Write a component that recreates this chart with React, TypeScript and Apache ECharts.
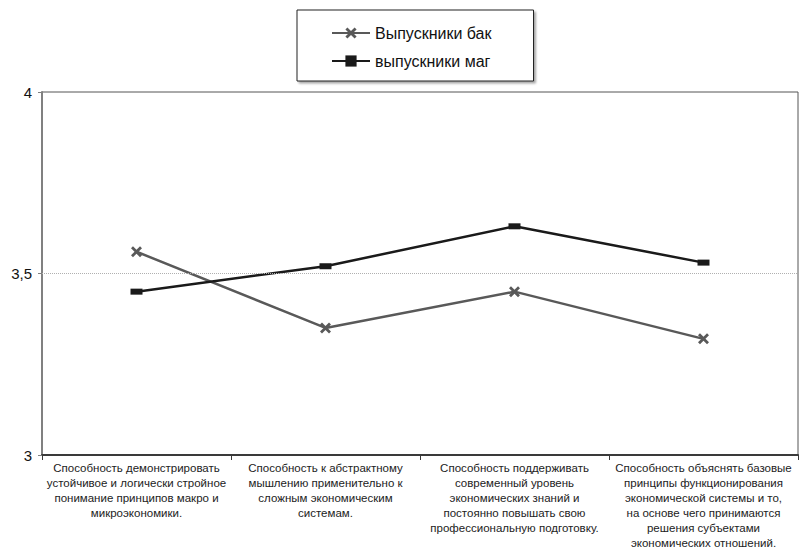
import React, { useEffect, useRef } from "react";
import * as echarts from "echarts";

const categories = [
  "Способность демонстрировать\nустойчивое и логически стройное\nпонимание принципов макро и\nмикроэкономики.",
  "Способность к абстрактному\nмышлению применительно к\nсложным экономическим\nсистемам.",
  "Способность поддерживать\nсовременный уровень\nэкономических знаний и\nпостоянно повышать свою\nпрофессиональную подготовку.",
  "Способность объяснять базовые\nпринципы функционирования\nэкономической системы и то,\nна основе чего принимаются\nрешения субъектами\nэкономических отношений.",
];
const seriesNames = ["Выпускники бак", "выпускники маг"];
const bakValues = [3.56, 3.35, 3.45, 3.32];
const magValues = [3.45, 3.52, 3.63, 3.53];

const crossPath =
  "path://M0,1.8L1.8,0L5,3.2L8.2,0L10,1.8L6.8,5L10,8.2L8.2,10L5,6.8L1.8,10L0,8.2L3.2,5Z";

export default function App() {
  const ref = useRef<HTMLDivElement>(null);
  useEffect(() => {
    const chart = echarts.init(ref.current!, null, { renderer: "svg" });
    chart.setOption({
      animation: false,
      backgroundColor: "#fff",
      textStyle: { fontFamily: "Liberation Sans" },
      legend: {
        orient: "vertical",
        left: 297,
        top: 10,
        padding: [15, 42, 12, 34],
        itemGap: 12,
        itemWidth: 38,
        itemHeight: 14,
        borderColor: "#222",
        borderWidth: 1,
        backgroundColor: "#fff",
        shadowColor: "rgba(0,0,0,0.35)",
        shadowBlur: 2,
        shadowOffsetX: 2,
        shadowOffsetY: 2,
        textStyle: { fontSize: 16, color: "#111", fontFamily: "Liberation Sans" },
        data: seriesNames,
      },
      grid: {
        left: 42,
        right: 1,
        top: 92,
        bottom: 95,
        show: true,
        borderColor: "#555",
        borderWidth: 1,
        outerBoundsMode: "none",
        containLabel: false,
      },
      xAxis: {
        type: "category",
        data: categories,
        boundaryGap: true,
        axisLine: { lineStyle: { color: "#3a3a3a", width: 2 } },
        axisTick: { show: true, length: 5, lineStyle: { color: "#3a3a3a" } },
        axisLabel: {
          interval: 0,
          fontSize: 11.5,
          lineHeight: 15,
          color: "#222",
          margin: 5,
          align: "center",
          hideOverlap: false,
        },
      },
      yAxis: {
        type: "value",
        min: 3,
        max: 4,
        interval: 0.5,
        axisLine: { show: true, lineStyle: { color: "#808080", width: 2 } },
        axisTick: { show: true, length: 4, lineStyle: { color: "#808080" } },
        splitLine: { show: false },
        axisLabel: {
          fontSize: 15,
          color: "#111",
          margin: 10,
          formatter: (v: number) => String(v).replace(".", ","),
        },
      },
      series: [
        {
          name: seriesNames[0],
          type: "line",
          data: bakValues,
          symbol: crossPath,
          symbolSize: 11,
          itemStyle: { color: "#595959" },
          lineStyle: { color: "#595959", width: 2.5 },
          markLine: {
            silent: true,
            symbol: "none",
            label: { show: false },
            lineStyle: { color: "#b0b0b0", type: "dotted", width: 1 },
            data: [{ yAxis: 3.5 }],
          },
          z: 3,
        },
        {
          name: seriesNames[1],
          type: "line",
          data: magValues,
          symbol: "rect",
          symbolSize: [12, 6],
          itemStyle: { color: "#1a1a1a" },
          lineStyle: { color: "#1a1a1a", width: 2.5 },
          z: 4,
        },
      ],
    });
    return () => chart.dispose();
  }, []);
  return <div ref={ref} style={{ width: 799, height: 550, position: "absolute", left: 0, top: 0 }} />;
}
